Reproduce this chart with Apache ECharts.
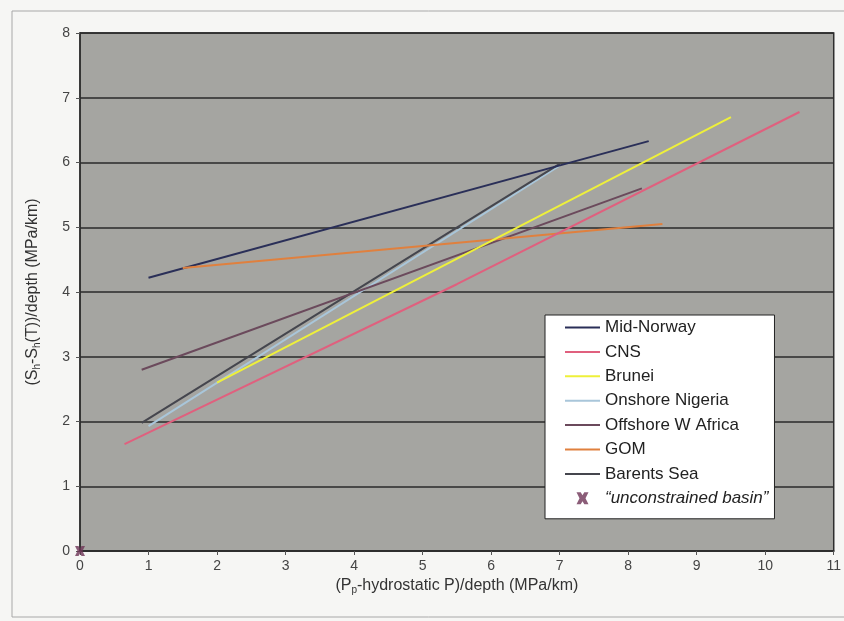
<!DOCTYPE html>
<html>
<head>
<meta charset="utf-8">
<script src="https://cdn.jsdelivr.net/npm/echarts@6/dist/echarts.min.js"></script>
<style>html,body{margin:0;padding:0;background:#f6f6f4;}#c{width:844px;height:621px;}</style>
</head>
<body>
<div id="c"></div>
<script>
// Data: [x, y] pairs
const seriesNames = ['Mid-Norway', 'CNS', 'Brunei', 'Onshore Nigeria', 'Offshore W Africa', 'GOM', 'Barents Sea'];
const midNorway = [[1.0, 4.22], [8.3, 6.33]];
const cns = [[0.65, 1.65], [5.5, 4.12], [10.5, 6.78]];
const brunei = [[2.0, 2.6], [9.5, 6.7]];
const onshoreNigeria = [[1.0, 1.93], [7.0, 5.95]];
const offshoreWAfrica = [[0.9, 2.8], [8.2, 5.6]];
const gom = [[1.5, 4.37], [8.5, 5.05]];
const barentsSea = [[0.9, 1.98], [7.0, 5.98]];
const unconstrained = [[0, 0]];
const unconstrainedName = '\u201Cunconstrained basin\u201D';
const xTicks = [0, 1, 2, 3, 4, 5, 6, 7, 8, 9, 10, 11];
const yTicks = [0, 1, 2, 3, 4, 5, 6, 7, 8];

const colors = ['#2a2f58', '#e0607e', '#eef03a', '#a9c6da', '#6b4a5c', '#e0803e', '#45464e'];
const dataSets = [midNorway, cns, brunei, onshoreNigeria, offshoreWAfrica, gom, barentsSea];
const font = 'Liberation Sans, Arial, sans-serif';

const chart = echarts.init(document.getElementById('c'));
const lineSeries = seriesNames.map((n, i) => ({
  name: n, type: 'line', data: dataSets[i], symbol: 'none',
  lineStyle: { color: colors[i], width: 2 }, itemStyle: { color: colors[i] },
  z: 3, animation: false
}));
const xSymbol = 'path://M0,0 L3.5,0 L5,2.5 L6.5,0 L10,0 L7.5,5 L10,10 L6.5,10 L5,7.5 L3.5,10 L0,10 L2.5,5 Z';
const lineIcon = 'path://M0,0 L35,0 L35,2 L0,2 Z';

chart.setOption({
  backgroundColor: '#f6f6f4',
  animation: false,
  graphic: [{
    type: 'rect', shape: { x: 12, y: 11, width: 840, height: 606 },
    style: { fill: 'none', stroke: '#a8a8a8', lineWidth: 1 }, z: 0
  }],
  grid: {
    left: 80, right: 3, top: 33, bottom: 70, show: true,
    backgroundColor: '#a5a5a1', borderColor: '#2e2e2e', borderWidth: 1.5
  },
  xAxis: {
    type: 'value', min: 0, max: 11, interval: 1,
    name: '(P{sub|p}-hydrostatic P)/depth (MPa/km)', nameLocation: 'middle', nameGap: 19,
    nameTextStyle: { fontFamily: font, fontSize: 16, color: '#333',
      rich: { sub: { fontSize: 10, verticalAlign: 'bottom', padding: [8, 0, 0, 0], fontFamily: font, color: '#333' } } },
    axisLine: { show: true, onZero: false, lineStyle: { color: '#2e2e2e', width: 1.5 } },
    axisTick: { show: true, length: 4, lineStyle: { color: '#555' } },
    axisLabel: { fontFamily: font, fontSize: 14, color: '#444', margin: 8,
      formatter: v => xTicks.includes(v) ? String(v) : '' },
    splitLine: { show: false }
  },
  yAxis: {
    type: 'value', min: 0, max: 8, interval: 1,
    name: '(S{sub|h}-S{sub|h}(T))/depth (MPa/km)', nameLocation: 'middle', nameGap: 38,
    nameTextStyle: { fontFamily: font, fontSize: 16, color: '#333',
      rich: { sub: { fontSize: 10, verticalAlign: 'bottom', padding: [8, 0, 0, 0], fontFamily: font, color: '#333' } } },
    axisLine: { show: true, onZero: false, lineStyle: { color: '#2e2e2e', width: 1.5 } },
    axisTick: { show: true, length: 4, lineStyle: { color: '#555' } },
    axisLabel: { fontFamily: font, fontSize: 14, color: '#444', margin: 10,
      formatter: v => yTicks.includes(v) ? String(v) : '' },
    splitLine: { show: true, lineStyle: { color: '#2a2a2a', width: 1.5 } }
  },
  legend: {
    orient: 'vertical', left: 545, top: 315,
    backgroundColor: '#ffffff', borderColor: '#222', borderWidth: 1,
    padding: [4, 6, 12, 20], itemGap: 7.4, itemWidth: 35, itemHeight: 12,
    symbolKeepAspect: true,
    textStyle: { fontFamily: font, fontSize: 17, color: '#222' },
    data: seriesNames.map((n, i) => ({ name: n, icon: lineIcon, itemStyle: { color: colors[i] } })).concat([{
      name: unconstrainedName, icon: xSymbol,
      textStyle: { fontStyle: 'italic', fontFamily: font, fontSize: 17, color: '#222' }
    }])
  },
  series: [
    lineSeries[3], lineSeries[6], lineSeries[0], lineSeries[4], lineSeries[5], lineSeries[1], lineSeries[2],
    {
      name: unconstrainedName, type: 'scatter', data: unconstrained,
      symbol: xSymbol, symbolSize: 10, itemStyle: { color: '#6e3556' }, z: 5, clip: false
    }
  ]
});
</script>
</body>
</html>
